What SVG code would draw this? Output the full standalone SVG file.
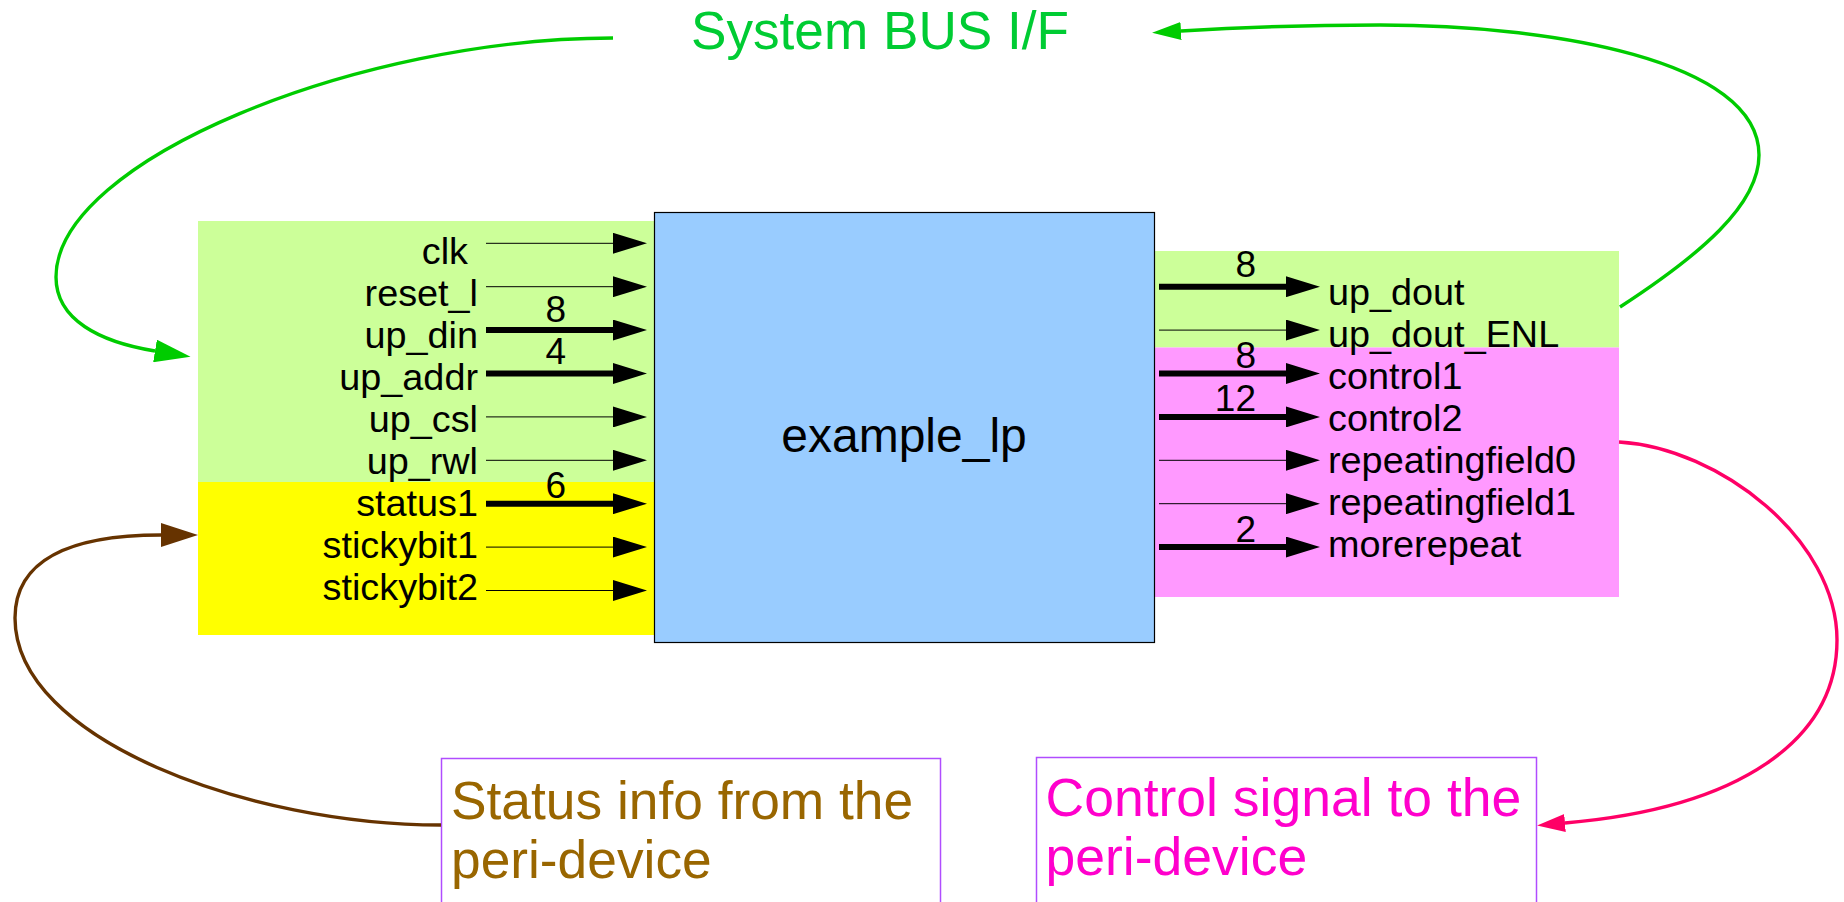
<svg xmlns="http://www.w3.org/2000/svg" width="1844" height="902" viewBox="0 0 1844 902">
  <style>
    text { font-family: "Liberation Sans", Arial, sans-serif; }
    .sig { font-size: 37.8px; fill: #000; }
    .in { text-anchor: end; }
    .width { font-size: 37px; fill: #000; text-anchor: end; }
    .thin { stroke: #000; stroke-width: 1; fill: none; }
    .thick { stroke: #000; stroke-width: 6; fill: none; }
    .loop { fill: none; stroke-width: 3.4; }
    .note { fill: #fff; stroke: #b04dff; stroke-width: 1.5; }
  </style>
  <defs>
    <marker id="pin" markerUnits="userSpaceOnUse" viewBox="0 0 34 21" markerWidth="34" markerHeight="21" refX="0" refY="10.5" orient="auto">
      <path d="M0,0 L34,10.5 L0,21 z" fill="#000"/>
    </marker>
    <marker id="busL" markerUnits="userSpaceOnUse" viewBox="0 0 36 23" markerWidth="36" markerHeight="23" refX="0" refY="11.5" orient="auto">
      <path d="M0,0 L36,11.5 L0,23 z" fill="#00cc00"/>
    </marker>
    <marker id="busR" markerUnits="userSpaceOnUse" viewBox="0 0 29 18" markerWidth="29" markerHeight="18" refX="0" refY="9" orient="auto">
      <path d="M0,0 L29,9 L0,18 z" fill="#00cc00"/>
    </marker>
    <marker id="stat" markerUnits="userSpaceOnUse" viewBox="0 0 37 24" markerWidth="37" markerHeight="24" refX="0" refY="12" orient="auto">
      <path d="M0,0 L37,12 L0,24 z" fill="#663300"/>
    </marker>
    <marker id="ctrl" markerUnits="userSpaceOnUse" viewBox="0 0 28 18" markerWidth="28" markerHeight="18" refX="0" refY="9" orient="auto">
      <path d="M0,0 L28,9 L0,18 z" fill="#ff0066"/>
    </marker>
  </defs>

  <rect width="1844" height="902" fill="#fff"/>

  <!-- input side: bus interface and status ports -->
  <g id="inputs">
    <rect x="198" y="221" width="457" height="261" fill="#ccff99"/>
    <rect x="198" y="482" width="457" height="153" fill="#ffff00"/>
    <text class="sig in" x="468" y="263.5">clk</text>
    <text class="sig in" x="478" y="305.5">reset_l</text>
    <text class="sig in" x="478" y="347.5">up_din</text>
    <text class="sig in" x="478" y="389.5">up_addr</text>
    <text class="sig in" x="478" y="431.5">up_csl</text>
    <text class="sig in" x="478" y="473.5">up_rwl</text>
    <text class="sig in" x="478" y="515.5">status1</text>
    <text class="sig in" x="478" y="557.5">stickybit1</text>
    <text class="sig in" x="478" y="599.5">stickybit2</text>
    <text class="width" x="566" y="321.7">8</text>
    <text class="width" x="566" y="364">4</text>
    <text class="width" x="566" y="498.3">6</text>
  </g>

  <!-- output side: read data and control ports -->
  <g id="outputs">
    <rect x="1154" y="251" width="465" height="96.5" fill="#ccff99"/>
    <rect x="1154" y="347.5" width="465" height="249.5" fill="#ff99ff"/>
    <text class="sig" x="1328" y="305">up_dout</text>
    <text class="sig" x="1328" y="347">up_dout_ENL</text>
    <text class="sig" x="1328" y="389">control1</text>
    <text class="sig" x="1328" y="431">control2</text>
    <text class="sig" x="1328" y="473">repeatingfield0</text>
    <text class="sig" x="1328" y="515">repeatingfield1</text>
    <text class="sig" x="1328" y="557">morerepeat</text>
    <text class="width" x="1256" y="277.3">8</text>
    <text class="width" x="1256" y="368.3">8</text>
    <text class="width" x="1256" y="410.7">12</text>
    <text class="width" x="1256" y="541.7">2</text>
  </g>

  <!-- register block -->
  <g id="example_lp">
    <rect x="654.5" y="212.5" width="500" height="430" fill="#99ccff" stroke="#000" stroke-width="1.2"/>
    <text x="904" y="452" font-size="48" text-anchor="middle" fill="#000">example_lp</text>
  </g>

  <g id="system_bus">
    <text x="691" y="49" font-size="53" fill="#00cc33" textLength="378" lengthAdjust="spacingAndGlyphs">System BUS I/F</text>
  </g>

  <g id="status_note">
    <rect class="note" x="441.5" y="758.5" width="499" height="160"/>
    <text x="451" y="819" font-size="53.3" fill="#996600">Status info from the</text>
    <text x="451" y="878" font-size="53.3" fill="#996600">peri-device</text>
  </g>

  <g id="control_note">
    <rect class="note" x="1036.5" y="757.5" width="500" height="160"/>
    <text x="1045.5" y="816" font-size="53.5" fill="#ff00cc">Control signal to the</text>
    <text x="1045.5" y="875" font-size="53.5" fill="#ff00cc">peri-device</text>
  </g>

  <g id="connectors">
    <!-- port arrows into the block -->
    <path class="thin" d="M486,243.3 H613" marker-end="url(#pin)"/>
    <path class="thin" d="M486,286.7 H613" marker-end="url(#pin)"/>
    <path class="thick" d="M486,330.1 H613" marker-end="url(#pin)"/>
    <path class="thick" d="M486,373.5 H613" marker-end="url(#pin)"/>
    <path class="thin" d="M486,416.9 H613" marker-end="url(#pin)"/>
    <path class="thin" d="M486,460.3 H613" marker-end="url(#pin)"/>
    <path class="thick" d="M486,503.7 H613" marker-end="url(#pin)"/>
    <path class="thin" d="M486,547.1 H613" marker-end="url(#pin)"/>
    <path class="thin" d="M486,590.5 H613" marker-end="url(#pin)"/>
    <!-- port arrows out of the block -->
    <path class="thick" d="M1159,286.7 H1286" marker-end="url(#pin)"/>
    <path class="thin" d="M1159,330.1 H1286" marker-end="url(#pin)"/>
    <path class="thick" d="M1159,373.5 H1286" marker-end="url(#pin)"/>
    <path class="thick" d="M1159,416.9 H1286" marker-end="url(#pin)"/>
    <path class="thin" d="M1159,460.3 H1286" marker-end="url(#pin)"/>
    <path class="thin" d="M1159,503.7 H1286" marker-end="url(#pin)"/>
    <path class="thick" d="M1159,547.1 H1286" marker-end="url(#pin)"/>

    <!-- bus loops -->
    <path class="loop" stroke="#00cc00" d="M613,38 C360,38 56,160 56,277 C56,320 100,342 155,351" marker-end="url(#busL)"/>
    <path class="loop" stroke="#00cc00" d="M1620,307 C1700,255 1759,205 1759,155 C1759,60 1550,25 1380,25 C1300,25 1230,28 1181,31" marker-end="url(#busR)"/>
    <path class="loop" stroke="#663300" d="M441,825 C250,825 15,740 15,618 C15,560 70,535 161,535" marker-end="url(#stat)"/>
    <path class="loop" stroke="#ff0066" d="M1619,442 C1720,448 1837,540 1837,640 C1837,740 1740,808 1565,823" marker-end="url(#ctrl)"/>
  </g>
</svg>
